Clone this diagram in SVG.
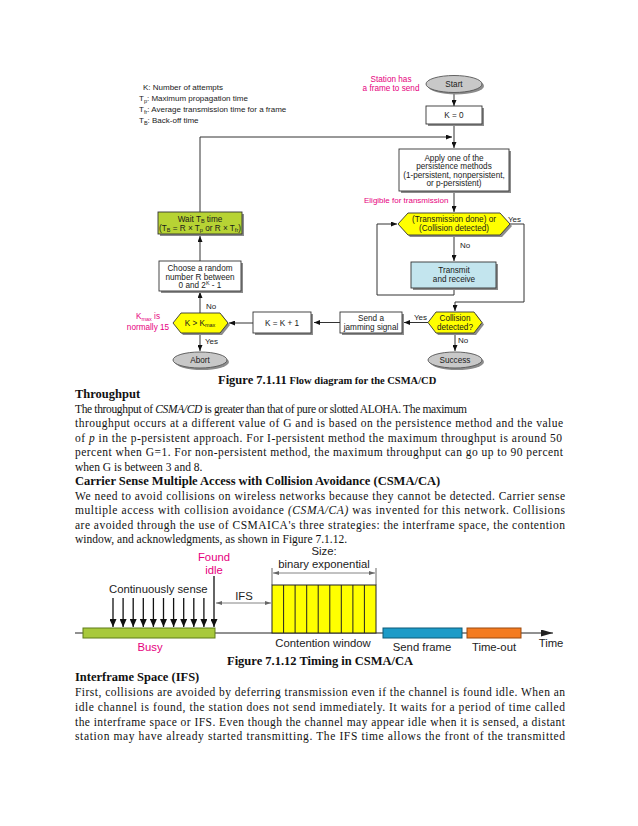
<svg xmlns="http://www.w3.org/2000/svg" width="638" height="826" viewBox="0 0 638 826">
<defs>
<style>
.fc{font-family:"Liberation Sans",Arial,sans-serif;font-size:8.2px;fill:#1a1a1a;text-anchor:middle}
.lg{font-family:"Liberation Sans",Arial,sans-serif;font-size:8px;fill:#1a1a1a}
.sub{font-size:5.5px}
.box{fill:#fff;stroke:#333;stroke-width:0.9}
.sh{fill:#8c8c8c}
.hex{fill:#ffff00;stroke:#333;stroke-width:0.9}
.ell{fill:#c8c8c8;stroke:#555;stroke-width:0.9}
.con{fill:none;stroke:#333;stroke-width:1;marker-end:url(#ah)}
.body{font-family:"Liberation Serif","Times New Roman",serif;font-size:11.5px;fill:#111}
.bh{font-family:"Liberation Serif","Times New Roman",serif;font-size:12.5px;font-weight:bold;fill:#111}
.tm{font-family:"Liberation Sans",Arial,sans-serif;font-size:11.3px;fill:#222}
.dn{stroke:#111;stroke-width:1.3;marker-end:url(#dn)}
.dbl{stroke:#666;stroke-width:0.8;marker-start:url(#sm);marker-end:url(#sm)}
.mag{fill:#e6007e}
</style>
<marker id="ah" markerUnits="userSpaceOnUse" markerWidth="6" markerHeight="5" refX="6" refY="2.5" orient="auto"><path d="M0,0 L6,2.5 L0,5 z" fill="#111"/></marker>
<marker id="dn" markerUnits="userSpaceOnUse" markerWidth="8" markerHeight="7" refX="8" refY="3.5" orient="auto"><path d="M0,0 L8,3.5 L0,7 z" fill="#111"/></marker>
<marker id="sm" markerUnits="userSpaceOnUse" markerWidth="6" markerHeight="4" refX="6" refY="2" orient="auto-start-reverse"><path d="M0,0 L6,2 L0,4 z" fill="#666"/></marker>
<marker id="ax" markerUnits="userSpaceOnUse" markerWidth="12" markerHeight="7" refX="12" refY="3.5" orient="auto"><path d="M0,0 L12,3.5 L0,7 z" fill="#222"/></marker>
</defs>
<rect width="638" height="826" fill="#fff"/>

<!-- Legend -->
<g id="legend">
<text class="lg" x="143" y="90">K: Number of attempts</text>
<text class="lg" x="139" y="101">T<tspan class="sub" dy="2">p</tspan><tspan dy="-2">: Maximum propagation time</tspan></text>
<text class="lg" x="139" y="112">T<tspan class="sub" dy="2">fr</tspan><tspan dy="-2">: Average transmission time for a frame</tspan></text>
<text class="lg" x="139" y="123">T<tspan class="sub" dy="2">B</tspan><tspan dy="-2">: Back-off time</tspan></text>
</g>

<!-- Connectors -->
<g id="connectors">
<path class="con" d="M454,93 V106"/>
<path class="con" d="M454,124 V148"/>
<path class="con" d="M200,212 V137 H452"/>
<path class="con" d="M454,191 V212"/>
<path class="con" d="M454,235 V261"/>
<path class="con" d="M454,288 V295 H377 V224 H397"/>
<path class="con" d="M510,224 H524 V302 H455 V311"/>
<path class="con" d="M428,322.5 H404"/>
<path class="con" d="M455,333 V351"/>
<path class="con" d="M340,322.5 H314"/>
<path class="con" d="M253,323 H229"/>
<path class="con" d="M200,313 V292"/>
<path class="con" d="M200,261 V236"/>
<path class="con" d="M200,333 V351"/>
<text class="lg" x="508" y="222">Yes</text>
<text class="lg" x="460" y="248">No</text>
<text class="lg" x="414" y="320">Yes</text>
<text class="lg" x="458" y="343">No</text>
<text class="lg" x="206" y="309">No</text>
<text class="lg" x="205" y="344">Yes</text>
</g>

<g id="station-label">
<text class="fc mag" x="391" y="82">Station has</text>
<text class="fc mag" x="391" y="91">a frame to send</text>
</g>

<g id="start">
<ellipse class="sh" cx="456" cy="86" rx="28" ry="8.5"/>
<ellipse class="ell" cx="454" cy="84" rx="28" ry="8.5"/>
<text class="fc" x="454" y="87">Start</text>
</g>

<g id="k0">
<rect class="sh" x="428" y="108" width="56" height="18"/>
<rect class="box" x="426" y="106" width="56" height="18"/>
<text class="fc" x="454" y="118">K = 0</text>
</g>

<g id="apply">
<rect class="sh" x="401" y="151" width="110" height="42"/>
<rect class="box" x="399" y="149" width="110" height="42"/>
<text class="fc" x="454" y="160.5">Apply one of the</text>
<text class="fc" x="454" y="169">persistence methods</text>
<text class="fc" x="454" y="177.5">(1-persistent, nonpersistent,</text>
<text class="fc" x="454" y="186">or p-persistent)</text>
</g>

<g id="eligible">
<text class="lg mag" x="364" y="203">Eligible for transmission</text>
</g>

<g id="decision1">
<polygon class="sh" points="400,226 410,215 502,215 512,226 502,237 410,237"/>
<polygon class="hex" points="398,224 408,213 500,213 510,224 500,235 408,235"/>
<text class="fc" x="454" y="222">(Transmission done) or</text>
<text class="fc" x="454" y="231">(Collision detected)</text>
</g>

<g id="transmit">
<rect class="sh" x="413" y="264" width="85" height="26"/>
<rect x="411" y="262" width="85" height="26" fill="#c3e5ee" stroke="#333" stroke-width="0.9"/>
<text class="fc" x="454" y="273">Transmit</text>
<text class="fc" x="454" y="281.5">and receive</text>
</g>

<g id="collision">
<polygon class="sh" points="430,324.5 438,314 476,314 484,324.5 476,335 438,335"/>
<polygon class="hex" points="428,322.5 436,312 474,312 482,322.5 474,333 436,333"/>
<text class="fc" x="455" y="321">Collision</text>
<text class="fc" x="455" y="329.5">detected?</text>
</g>

<g id="success">
<ellipse class="sh" cx="457" cy="362" rx="27" ry="8"/>
<ellipse class="ell" cx="455" cy="360" rx="27" ry="8"/>
<text class="fc" x="455" y="363">Success</text>
</g>

<g id="jamming">
<rect class="sh" x="342" y="314" width="62" height="21"/>
<rect class="box" x="340" y="312" width="62" height="21"/>
<text class="fc" x="371" y="321">Send a</text>
<text class="fc" x="371" y="329.5">jamming signal</text>
</g>

<g id="kinc">
<rect class="sh" x="255" y="314" width="58" height="21"/>
<rect class="box" x="253" y="312" width="58" height="21"/>
<text class="fc" x="282" y="325.5">K = K + 1</text>
</g>

<g id="kmax">
<polygon class="sh" points="175,325 183,315 222,315 230,325 222,335 183,335"/>
<polygon class="hex" points="173,323 181,313 220,313 228,323 220,333 181,333"/>
<text class="fc" x="200" y="325.5">K &gt; K<tspan class="sub" dy="1.5">max</tspan></text>
</g>

<g id="kmax-note">
<text class="fc mag" x="148" y="319">K<tspan class="sub" dy="1.5">max</tspan><tspan dy="-1.5"> is</tspan></text>
<text class="fc mag" x="148" y="330">normally 15</text>
</g>

<g id="abort">
<ellipse class="sh" cx="202" cy="362" rx="27" ry="8"/>
<ellipse class="ell" cx="200" cy="360" rx="27" ry="8"/>
<text class="fc" x="200" y="363">Abort</text>
</g>

<g id="choose">
<rect class="sh" x="161" y="263" width="82" height="30"/>
<rect class="box" x="159" y="261" width="82" height="30"/>
<text class="fc" x="200" y="271">Choose a random</text>
<text class="fc" x="200" y="279.5">number R between</text>
<text class="fc" x="200" y="288">0 and 2<tspan class="sub" dy="-3">K</tspan><tspan dy="3"> - 1</tspan></text>
</g>

<g id="wait">
<rect class="sh" x="160" y="214" width="84" height="22"/>
<rect x="158" y="212" width="84" height="22" fill="#b7d334" stroke="#333" stroke-width="0.9"/>
<text class="fc" x="200" y="221.5">Wait T<tspan class="sub" dy="1.5">B</tspan><tspan dy="-1.5"> time</tspan></text>
<text class="fc" x="200" y="230.5">(T<tspan class="sub" dy="1.5">B</tspan><tspan dy="-1.5"> = R × T</tspan><tspan class="sub" dy="1.5">p</tspan><tspan dy="-1.5"> or R × T</tspan><tspan class="sub" dy="1.5">fr</tspan><tspan dy="-1.5">)</tspan></text>
</g>

<!-- Caption 1 and text -->
<text class="bh" x="218" y="384">Figure 7.1.11<tspan font-size="10.5px"> Flow diagram for the CSMA/CD</tspan></text>
<text class="bh" x="75" y="398">Throughput</text>
<text class="body" x="75" y="412.5" font-size="11px" textLength="392" lengthAdjust="spacing">The throughput of <tspan font-style="italic">CSMA/CD</tspan> is greater than that of pure or slotted ALOHA. The maximum</text>
<text class="body" x="75" y="427" textLength="488" lengthAdjust="spacing">throughput occurs at a different value of G and is based on the persistence method and the value</text>
<text class="body" x="75" y="441.5" textLength="487" lengthAdjust="spacing">of <tspan font-style="italic">p</tspan> in the p-persistent approach. For I-persistent method the maximum throughput is around 50</text>
<text class="body" x="75" y="456" textLength="488" lengthAdjust="spacing">percent when G=1. For non-persistent method, the maximum throughput can go up to 90 percent</text>
<text class="body" x="75" y="470.5">when G is between 3 and 8.</text>
<text class="bh" x="75" y="485">Carrier Sense Multiple Access with Collision Avoidance (CSMA/CA)</text>
<text class="body" x="75" y="499.5" textLength="490" lengthAdjust="spacing">We need to avoid collisions on wireless networks because they cannot be detected. Carrier sense</text>
<text class="body" x="75" y="514" textLength="490" lengthAdjust="spacing">multiple access with collision avoidance <tspan font-style="italic">(CSMA/CA)</tspan> was invented for this network. Collisions</text>
<text class="body" x="75" y="528.5" textLength="490" lengthAdjust="spacing">are avoided through the use of CSMAICA's three strategies: the interframe space, the contention</text>
<text class="body" x="75" y="543">window, and acknowledgments, as shown in Figure 7.1.12.</text>

<!-- Timing diagram -->
<g id="timing">
<line x1="75" y1="633" x2="553" y2="633" stroke="#222" stroke-width="1" marker-end="url(#ax)"/>
<rect x="83" y="628" width="132" height="10" fill="#a8c93c" stroke="#5f7d18" stroke-width="1"/>
<text class="tm mag" x="150" y="651" text-anchor="middle">Busy</text>
<text class="tm" x="109" y="593">Continuously sense</text>
<line class="dn" x1="113" y1="598" x2="113" y2="627"/>
<line class="dn" x1="123.1" y1="598" x2="123.1" y2="627"/>
<line class="dn" x1="133.2" y1="598" x2="133.2" y2="627"/>
<line class="dn" x1="143.3" y1="598" x2="143.3" y2="627"/>
<line class="dn" x1="153.4" y1="598" x2="153.4" y2="627"/>
<line class="dn" x1="163.5" y1="598" x2="163.5" y2="627"/>
<line class="dn" x1="173.6" y1="598" x2="173.6" y2="627"/>
<line class="dn" x1="183.7" y1="598" x2="183.7" y2="627"/>
<line class="dn" x1="193.8" y1="598" x2="193.8" y2="627"/>
<line class="dn" x1="203.9" y1="598" x2="203.9" y2="627"/>
<line class="dn" x1="214" y1="576" x2="214" y2="627"/>
<text class="tm mag" x="214" y="561" text-anchor="middle">Found</text>
<text class="tm mag" x="214" y="574" text-anchor="middle">idle</text>
<line class="dbl" x1="216" y1="603" x2="271" y2="603"/>
<text class="tm" x="244" y="600" text-anchor="middle">IFS</text>
<rect x="272" y="585" width="104" height="48" fill="#ffff00" stroke="#222" stroke-width="1"/>
<path d="M283.6,585V633M295.1,585V633M306.7,585V633M318.2,585V633M329.8,585V633M341.3,585V633M352.9,585V633M364.4,585V633" stroke="#222" stroke-width="1"/>
<path d="M272,568V585M376,568V585" stroke="#444" stroke-width="0.8"/>
<line class="dbl" x1="273" y1="573" x2="375" y2="573"/>
<text class="tm" x="324" y="555" text-anchor="middle">Size:</text>
<text class="tm" x="324" y="568" text-anchor="middle">binary exponential</text>
<text class="tm" x="323" y="647" text-anchor="middle">Contention window</text>
<rect x="383" y="628" width="79" height="10" fill="#1c9bc8" stroke="#0d5a78" stroke-width="1"/>
<text class="tm" x="422" y="651" text-anchor="middle">Send frame</text>
<rect x="467" y="628" width="54" height="10" fill="#f47b20" stroke="#9a4a10" stroke-width="1"/>
<text class="tm" x="494" y="651" text-anchor="middle">Time-out</text>
<text class="tm" x="551" y="647" text-anchor="middle">Time</text>
</g>

<text class="bh" x="227" y="665">Figure 7.1.12 Timing in CSMA/CA</text>
<text class="bh" x="75" y="681">Interframe Space (IFS)</text>
<text class="body" x="75" y="696" textLength="490" lengthAdjust="spacing">First, collisions are avoided by deferring transmission even if the channel is found idle. When an</text>
<text class="body" x="75" y="711" textLength="490" lengthAdjust="spacing">idle channel is found, the station does not send immediately. It waits for a period of time called</text>
<text class="body" x="75" y="725.5" textLength="490" lengthAdjust="spacing">the interframe space or IFS. Even though the channel may appear idle when it is sensed, a distant</text>
<text class="body" x="75" y="740" textLength="490" lengthAdjust="spacing">station may have already started transmitting. The IFS time allows the front of the transmitted</text>
</svg>
